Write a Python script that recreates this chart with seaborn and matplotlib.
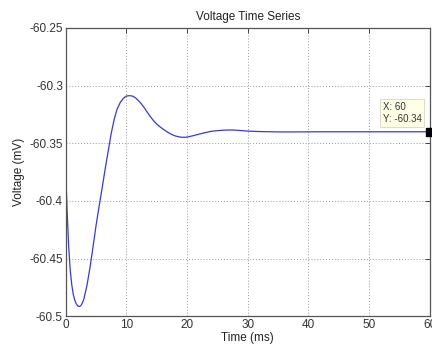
import matplotlib
matplotlib.use("Agg")
import matplotlib.pyplot as plt
import seaborn as sns
import pandas as pd

time_ms = [0, 0.1, 0.25, 0.5, 0.75, 1.0, 1.25, 1.5, 1.75, 2.0, 2.25, 2.5, 2.75,
           3.0, 3.5, 4.0, 4.5, 5.0, 5.5, 6.0, 6.5, 7.0, 7.5, 8.0, 8.5, 9.0, 9.5,
           10.0, 10.5, 11.0, 11.5, 12.0, 12.5, 13.0, 13.5, 14.0, 14.5, 15.0,
           15.5, 16.0, 16.5, 17.0, 17.5, 18.0, 18.5, 19.0, 19.5, 20.0, 21.0,
           22.0, 23.0, 24.0, 25.0, 26.0, 27.0, 28.0, 29.0, 30.0, 32.0, 35.0,
           38.0, 42.0, 50.0, 60.0]
voltage_mv = [-60.370, -60.388, -60.410, -60.440, -60.460, -60.4725, -60.4810,
              -60.4860, -60.4893, -60.4910, -60.4915, -60.4908, -60.4885,
              -60.4850, -60.4735, -60.4580, -60.4400, -60.4215, -60.4050,
              -60.3890, -60.3725, -60.3570, -60.3415, -60.3290, -60.3200,
              -60.3145, -60.3110, -60.3090, -60.3087, -60.3090, -60.3105,
              -60.3130, -60.3160, -60.3195, -60.3235, -60.3272, -60.3305,
              -60.3333, -60.3355, -60.3375, -60.3393, -60.3410, -60.3424,
              -60.3435, -60.3442, -60.3447, -60.3448, -60.3446, -60.3434,
              -60.3420, -60.3407, -60.3396, -60.3390, -60.3386, -60.3384,
              -60.3386, -60.3390, -60.3394, -60.3398, -60.3401, -60.3401,
              -60.3400, -60.3400, -60.3400]
x_ticks = [0, 10, 20, 30, 40, 50, 60]
y_ticks = [-60.5, -60.45, -60.4, -60.35, -60.3, -60.25]
y_tick_labels = ["-60.5", "-60.45", "-60.4", "-60.35", "-60.3", "-60.25"]
tip_x = 60
tip_y = -60.34

df = pd.DataFrame({"Time (ms)": time_ms, "Voltage (mV)": voltage_mv})

sns.set_style("white")
plt.rcParams["font.family"] = ["Liberation Sans", "DejaVu Sans"]

fig = plt.figure(figsize=(4.32, 3.5), dpi=100)
ax = fig.add_axes([0.152, 0.0963, 0.843, 0.8237])

sns.lineplot(data=df, x="Time (ms)", y="Voltage (mV)", ax=ax, color="#3a3acc",
             linewidth=0.9, estimator=None, sort=False)

ax.set_xlim(0, 60)
ax.set_ylim(-60.5, -60.25)
ax.set_xticks(x_ticks)
ax.set_xticklabels([str(v) for v in x_ticks])
ax.set_yticks(y_ticks)
ax.set_yticklabels(y_tick_labels)

ax.grid(True, linestyle=(0, (1, 2.0)), color="#999999", linewidth=0.7)
ax.tick_params(direction="in", length=3.5, width=0.7, colors="#444444",
               labelsize=8.5, top=True, right=True, pad=2, labelcolor="#333333")
for s in ax.spines.values():
    s.set_color("#555555")
    s.set_linewidth(0.9)

ax.set_title("Voltage Time Series", fontsize=8.5, color="#222222", pad=6)
ax.set_xlabel("Time (ms)", fontsize=8.5, color="#222222", labelpad=1)
ax.set_ylabel("Voltage (mV)", fontsize=8.5, color="#222222", labelpad=3)

# data tip
ax.plot([tip_x], [tip_y], marker="s", color="black", markersize=5.5, clip_on=False, zorder=5)
ax.annotate(f"X: {tip_x}\nY: {tip_y:.2f}", xy=(tip_x, tip_y), xytext=(-34, 5.6),
            textcoords="offset points", fontsize=7, color="#333333", linespacing=1.25,
            bbox=dict(boxstyle="square,pad=0.3", facecolor="#ffffe6", edgecolor="#d8d8c0",
                      linewidth=0.6), va="bottom", ha="left")

fig.savefig("out.png", dpi=100)
